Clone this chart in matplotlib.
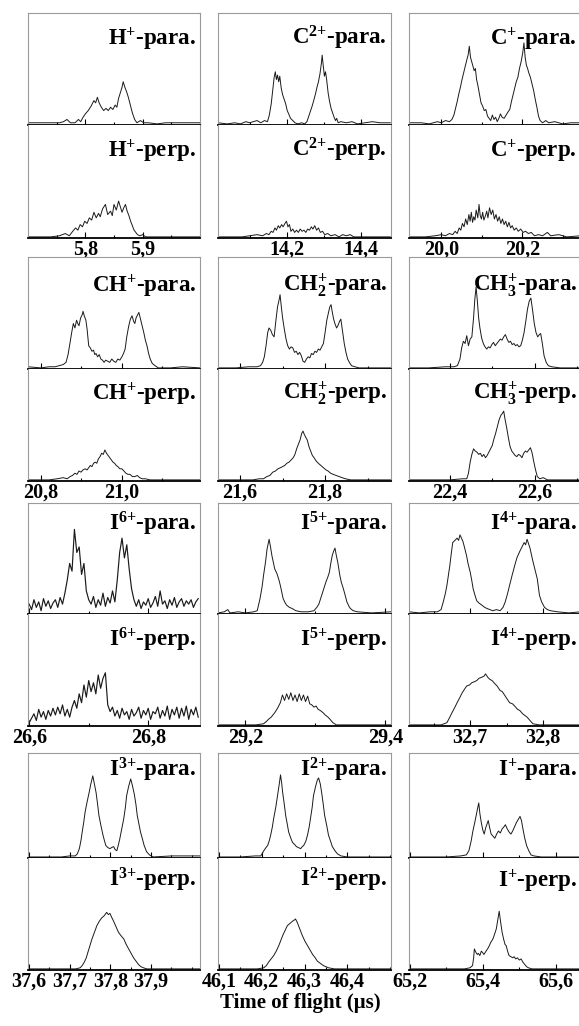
import numpy as np
import matplotlib
matplotlib.use('Agg')
import matplotlib.pyplot as plt
from matplotlib.ticker import FixedLocator, MultipleLocator

plt.rcParams['font.family'] = 'Liberation Serif'
plt.rcParams['font.weight'] = 'bold'
plt.rcParams['mathtext.fontset'] = 'custom'
plt.rcParams['mathtext.rm'] = 'Liberation Serif:bold'
plt.rcParams['mathtext.it'] = 'Liberation Serif:bold'
plt.rcParams['mathtext.bf'] = 'Liberation Serif:bold'

# ---- traces: (time of flight in us, relative signal) ----
h_para = [(5.700, 0.01), (5.720, 0.01), (5.740, 0.01), (5.755, 0.01), (5.762, 0.02), (5.768, 0.04),
          (5.774, 0.01), (5.782, 0.01), (5.788, 0.04), (5.792, 0.02), (5.796, 0.06), (5.800, 0.09),
          (5.805, 0.12), (5.810, 0.16), (5.815, 0.21), (5.818, 0.19), (5.821, 0.24), (5.824, 0.19),
          (5.828, 0.15), (5.832, 0.12), (5.836, 0.14), (5.840, 0.12), (5.844, 0.15), (5.848, 0.13),
          (5.852, 0.17), (5.855, 0.15), (5.858, 0.23), (5.861, 0.28), (5.864, 0.33), (5.866, 0.38),
          (5.869, 0.33), (5.872, 0.29), (5.875, 0.24), (5.878, 0.18), (5.882, 0.10), (5.886, 0.04),
          (5.890, 0.01), (5.896, 0.03), (5.902, 0.01), (5.910, 0.01), (5.925, 0.00), (5.940, 0.01),
          (5.950, 0.01), (5.970, 0.01), (6.000, 0.01)]
h_perp = [(5.700, 0.0), (5.740, 0.0), (5.755, 0.01), (5.765, 0.03), (5.772, 0.01), (5.778, 0.05),
          (5.783, 0.08), (5.787, 0.06), (5.791, 0.11), (5.795, 0.09), (5.799, 0.14), (5.803, 0.12),
          (5.807, 0.17), (5.811, 0.15), (5.815, 0.22), (5.819, 0.17), (5.823, 0.21), (5.826, 0.18),
          (5.830, 0.25), (5.835, 0.29), (5.839, 0.20), (5.844, 0.23), (5.847, 0.19), (5.850, 0.29),
          (5.854, 0.24), (5.858, 0.32), (5.861, 0.27), (5.864, 0.22), (5.867, 0.26), (5.870, 0.29),
          (5.873, 0.23), (5.876, 0.19), (5.879, 0.14), (5.882, 0.10), (5.885, 0.06), (5.888, 0.04),
          (5.891, 0.02), (5.895, 0.01), (5.900, 0.02), (5.905, 0.0), (5.930, 0.0), (6.000, 0.0)]

c2_para = [(14.015, 0.01), (14.04, 0.0), (14.06, 0.01), (14.075, 0.0), (14.09, 0.02), (14.10, 0.01),
           (14.11, 0.02), (14.12, 0.03), (14.13, 0.01), (14.14, 0.03), (14.148, 0.02), (14.153, 0.08),
           (14.158, 0.18), (14.162, 0.30), (14.166, 0.42), (14.169, 0.47), (14.172, 0.40), (14.175, 0.44),
           (14.178, 0.38), (14.181, 0.43), (14.185, 0.32), (14.189, 0.26), (14.193, 0.22), (14.197, 0.18),
           (14.201, 0.12), (14.205, 0.09), (14.210, 0.05), (14.216, 0.03), (14.222, 0.01), (14.230, 0.0),
           (14.240, 0.01), (14.248, 0.0), (14.254, 0.02), (14.259, 0.07), (14.264, 0.12), (14.268, 0.16),
           (14.273, 0.22), (14.277, 0.27), (14.281, 0.33), (14.285, 0.38), (14.289, 0.45), (14.293, 0.55),
           (14.295, 0.62), (14.298, 0.52), (14.301, 0.43), (14.304, 0.47), (14.307, 0.40), (14.311, 0.28),
           (14.315, 0.20), (14.319, 0.14), (14.323, 0.10), (14.327, 0.06), (14.331, 0.03), (14.334, 0.05),
           (14.338, 0.01), (14.345, 0.02), (14.36, 0.01), (14.375, 0.02), (14.39, 0.0), (14.41, 0.01),
           (14.43, 0.02), (14.45, 0.01), (14.478, 0.01)]
c2_perp = [(14.015, 0.0), (14.08, 0.0), (14.10, 0.01), (14.12, 0.02), (14.135, 0.01), (14.145, 0.03),
           (14.152, 0.02), (14.158, 0.05), (14.163, 0.04), (14.168, 0.08), (14.172, 0.06), (14.177, 0.10),
           (14.181, 0.08), (14.186, 0.11), (14.190, 0.09), (14.195, 0.12), (14.199, 0.14), (14.203, 0.09),
           (14.207, 0.11), (14.211, 0.05), (14.216, 0.07), (14.221, 0.04), (14.226, 0.06), (14.231, 0.04),
           (14.236, 0.07), (14.241, 0.05), (14.246, 0.06), (14.251, 0.04), (14.256, 0.07), (14.261, 0.06),
           (14.266, 0.09), (14.270, 0.07), (14.275, 0.10), (14.280, 0.06), (14.285, 0.08), (14.290, 0.04),
           (14.296, 0.05), (14.302, 0.02), (14.310, 0.03), (14.318, 0.01), (14.33, 0.02), (14.34, 0.0),
           (14.35, 0.02), (14.36, 0.01), (14.37, 0.02), (14.38, 0.0), (14.478, 0.0)]

c1_para = [(19.92, 0.01), (19.95, 0.01), (19.97, 0.0), (19.99, 0.02), (20.00, 0.01), (20.01, 0.03),
           (20.02, 0.02), (20.026, 0.04), (20.031, 0.08), (20.035, 0.14), (20.039, 0.20), (20.043, 0.27),
           (20.047, 0.33), (20.051, 0.40), (20.055, 0.46), (20.059, 0.52), (20.063, 0.58), (20.066, 0.62),
           (20.069, 0.70), (20.072, 0.60), (20.075, 0.56), (20.078, 0.52), (20.081, 0.48), (20.084, 0.50),
           (20.087, 0.40), (20.090, 0.35), (20.094, 0.27), (20.098, 0.19), (20.102, 0.16), (20.106, 0.12),
           (20.110, 0.13), (20.114, 0.07), (20.118, 0.05), (20.122, 0.03), (20.126, 0.08), (20.130, 0.04),
           (20.134, 0.06), (20.138, 0.02), (20.142, 0.05), (20.146, 0.09), (20.150, 0.06), (20.155, 0.05),
           (20.160, 0.08), (20.165, 0.11), (20.169, 0.13), (20.173, 0.20), (20.177, 0.26), (20.181, 0.32),
           (20.185, 0.38), (20.189, 0.42), (20.193, 0.50), (20.197, 0.56), (20.201, 0.64), (20.204, 0.73),
           (20.207, 0.60), (20.210, 0.53), (20.213, 0.50), (20.216, 0.46), (20.220, 0.42), (20.224, 0.36),
           (20.228, 0.30), (20.232, 0.22), (20.236, 0.15), (20.240, 0.07), (20.244, 0.03), (20.250, 0.01),
           (20.258, 0.03), (20.265, 0.01), (20.28, 0.02), (20.30, 0.0), (20.32, 0.01), (20.345, 0.01)]
c1_perp = [(19.92, 0.0), (19.96, 0.0), (19.985, 0.01), (20.00, 0.02), (20.01, 0.01), (20.02, 0.03),
           (20.028, 0.02), (20.034, 0.05), (20.039, 0.03), (20.044, 0.08), (20.048, 0.06), (20.052, 0.12),
           (20.056, 0.09), (20.060, 0.16), (20.064, 0.11), (20.068, 0.20), (20.071, 0.14), (20.074, 0.22),
           (20.077, 0.13), (20.080, 0.18), (20.083, 0.15), (20.086, 0.24), (20.090, 0.17), (20.093, 0.29),
           (20.096, 0.19), (20.099, 0.16), (20.102, 0.22), (20.105, 0.15), (20.109, 0.19), (20.112, 0.23),
           (20.115, 0.17), (20.119, 0.26), (20.123, 0.20), (20.127, 0.24), (20.131, 0.16), (20.135, 0.20),
           (20.139, 0.14), (20.143, 0.18), (20.147, 0.12), (20.151, 0.16), (20.155, 0.11), (20.159, 0.14),
           (20.163, 0.09), (20.167, 0.13), (20.171, 0.08), (20.175, 0.10), (20.180, 0.06), (20.185, 0.08),
           (20.190, 0.05), (20.196, 0.07), (20.202, 0.04), (20.208, 0.05), (20.215, 0.03), (20.222, 0.04),
           (20.23, 0.01), (20.24, 0.02), (20.25, 0.01), (20.262, 0.04), (20.27, 0.01), (20.29, 0.02),
           (20.31, 0.0), (20.345, 0.01)]

ch_para = [(20.768, 0.01), (20.80, 0.0), (20.82, 0.01), (20.835, 0.01), (20.845, 0.02), (20.855, 0.03),
           (20.862, 0.05), (20.867, 0.12), (20.872, 0.23), (20.876, 0.32), (20.880, 0.40), (20.884, 0.36),
           (20.888, 0.43), (20.891, 0.40), (20.894, 0.38), (20.898, 0.45), (20.902, 0.48), (20.904, 0.51),
           (20.907, 0.47), (20.911, 0.43), (20.914, 0.35), (20.918, 0.20), (20.922, 0.18), (20.926, 0.15),
           (20.930, 0.16), (20.933, 0.12), (20.936, 0.13), (20.940, 0.10), (20.944, 0.12), (20.948, 0.08),
           (20.952, 0.07), (20.956, 0.05), (20.960, 0.07), (20.965, 0.06), (20.970, 0.05), (20.975, 0.08),
           (20.980, 0.06), (20.985, 0.05), (20.990, 0.08), (20.995, 0.07), (21.000, 0.10), (21.004, 0.13),
           (21.008, 0.17), (21.012, 0.28), (21.017, 0.38), (21.021, 0.44), (21.025, 0.47), (21.029, 0.42),
           (21.032, 0.40), (21.035, 0.45), (21.039, 0.48), (21.042, 0.50), (21.046, 0.44), (21.050, 0.38),
           (21.054, 0.32), (21.058, 0.25), (21.062, 0.20), (21.066, 0.13), (21.070, 0.08), (21.075, 0.04),
           (21.082, 0.02), (21.09, 0.0), (21.12, 0.0), (21.15, 0.01), (21.193, 0.0)]
ch_perp = [(20.768, 0.0), (20.82, 0.0), (20.84, 0.01), (20.855, 0.02), (20.865, 0.01), (20.872, 0.03),
           (20.878, 0.04), (20.884, 0.06), (20.889, 0.05), (20.894, 0.08), (20.899, 0.07), (20.904, 0.09),
           (20.909, 0.10), (20.914, 0.09), (20.918, 0.11), (20.922, 0.13), (20.926, 0.12), (20.930, 0.15),
           (20.934, 0.16), (20.938, 0.15), (20.942, 0.19), (20.946, 0.21), (20.950, 0.24), (20.954, 0.23),
           (20.958, 0.27), (20.962, 0.24), (20.966, 0.22), (20.970, 0.20), (20.974, 0.18), (20.978, 0.16),
           (20.982, 0.15), (20.986, 0.13), (20.990, 0.12), (20.995, 0.10), (21.000, 0.10), (21.005, 0.08),
           (21.010, 0.06), (21.015, 0.05), (21.020, 0.05), (21.026, 0.03), (21.032, 0.03), (21.038, 0.04),
           (21.044, 0.02), (21.050, 0.01), (21.058, 0.01), (21.07, 0.0), (21.193, 0.0)]

ch2_para = [(21.548, 0.0), (21.59, 0.0), (21.62, 0.01), (21.64, 0.01), (21.648, 0.02), (21.653, 0.05),
            (21.657, 0.10), (21.661, 0.20), (21.665, 0.32), (21.668, 0.36), (21.672, 0.34), (21.676, 0.30),
            (21.680, 0.28), (21.684, 0.42), (21.688, 0.55), (21.691, 0.60), (21.694, 0.66), (21.697, 0.55),
            (21.700, 0.45), (21.704, 0.35), (21.708, 0.26), (21.712, 0.20), (21.716, 0.17), (21.720, 0.19),
            (21.724, 0.18), (21.728, 0.14), (21.732, 0.15), (21.736, 0.12), (21.740, 0.14), (21.744, 0.11),
            (21.748, 0.06), (21.752, 0.05), (21.756, 0.08), (21.760, 0.10), (21.764, 0.09), (21.768, 0.13),
            (21.772, 0.12), (21.776, 0.15), (21.780, 0.14), (21.784, 0.17), (21.788, 0.16), (21.792, 0.19),
            (21.796, 0.22), (21.800, 0.32), (21.804, 0.43), (21.808, 0.50), (21.811, 0.55), (21.814, 0.57),
            (21.817, 0.50), (21.820, 0.44), (21.823, 0.40), (21.827, 0.36), (21.830, 0.38), (21.834, 0.42),
            (21.837, 0.44), (21.841, 0.33), (21.845, 0.22), (21.849, 0.14), (21.853, 0.08), (21.857, 0.05),
            (21.862, 0.02), (21.87, 0.01), (21.88, 0.0), (21.955, 0.0)]
ch2_perp = [(21.548, 0.0), (21.63, 0.0), (21.645, 0.01), (21.655, 0.01), (21.663, 0.03), (21.670, 0.04),
            (21.677, 0.07), (21.683, 0.08), (21.689, 0.10), (21.695, 0.11), (21.700, 0.12), (21.705, 0.13),
            (21.710, 0.15), (21.715, 0.16), (21.720, 0.18), (21.725, 0.20), (21.729, 0.23), (21.733, 0.28),
            (21.737, 0.32), (21.741, 0.36), (21.745, 0.42), (21.748, 0.44), (21.751, 0.41), (21.755, 0.38),
            (21.758, 0.36), (21.762, 0.30), (21.766, 0.26), (21.770, 0.22), (21.774, 0.20), (21.779, 0.17),
            (21.784, 0.15), (21.790, 0.13), (21.796, 0.11), (21.802, 0.09), (21.807, 0.08), (21.813, 0.06),
            (21.819, 0.05), (21.826, 0.04), (21.833, 0.03), (21.840, 0.02), (21.848, 0.01), (21.86, 0.0),
            (21.955, 0.0)]

ch3_para = [(22.304, 0.0), (22.35, 0.0), (22.39, 0.01), (22.41, 0.01), (22.418, 0.02), (22.424, 0.08),
            (22.428, 0.18), (22.432, 0.24), (22.436, 0.22), (22.440, 0.29), (22.444, 0.20), (22.448, 0.26),
            (22.452, 0.28), (22.456, 0.45), (22.459, 0.62), (22.462, 0.73), (22.465, 0.60), (22.468, 0.45),
            (22.471, 0.36), (22.475, 0.27), (22.479, 0.22), (22.483, 0.19), (22.487, 0.17), (22.491, 0.19),
            (22.495, 0.18), (22.499, 0.21), (22.503, 0.23), (22.507, 0.20), (22.511, 0.22), (22.515, 0.24),
            (22.519, 0.26), (22.523, 0.25), (22.527, 0.28), (22.531, 0.30), (22.535, 0.26), (22.539, 0.23),
            (22.543, 0.24), (22.547, 0.21), (22.551, 0.22), (22.555, 0.20), (22.559, 0.21), (22.563, 0.19),
            (22.567, 0.20), (22.571, 0.25), (22.575, 0.32), (22.579, 0.42), (22.583, 0.53), (22.587, 0.60),
            (22.591, 0.63), (22.595, 0.52), (22.599, 0.40), (22.603, 0.32), (22.607, 0.28), (22.611, 0.30),
            (22.614, 0.31), (22.618, 0.22), (22.622, 0.11), (22.627, 0.05), (22.632, 0.02), (22.64, 0.01),
            (22.66, 0.0), (22.709, 0.0)]
ch3_perp = [(22.304, 0.0), (22.40, 0.0), (22.43, 0.01), (22.440, 0.01), (22.444, 0.06), (22.448, 0.16),
            (22.452, 0.23), (22.456, 0.28), (22.460, 0.26), (22.464, 0.25), (22.468, 0.23), (22.472, 0.24),
            (22.476, 0.21), (22.480, 0.23), (22.484, 0.20), (22.488, 0.22), (22.492, 0.25), (22.496, 0.28),
            (22.500, 0.31), (22.504, 0.37), (22.508, 0.42), (22.512, 0.48), (22.516, 0.54), (22.520, 0.58),
            (22.524, 0.60), (22.527, 0.62), (22.530, 0.55), (22.534, 0.47), (22.538, 0.38), (22.542, 0.30),
            (22.546, 0.26), (22.550, 0.24), (22.554, 0.22), (22.558, 0.21), (22.562, 0.23), (22.566, 0.22),
            (22.570, 0.20), (22.574, 0.24), (22.578, 0.26), (22.582, 0.25), (22.586, 0.27), (22.590, 0.29),
            (22.594, 0.24), (22.598, 0.16), (22.602, 0.09), (22.606, 0.03), (22.612, 0.01), (22.620, 0.02),
            (22.63, 0.0), (22.709, 0.0)]

# I6+ is noisy: read on a regular 0.004 us grid starting at 26.600
i6_t0, i6_dt = 26.600, 0.004
i6_para_y = [0.08, 0.03, 0.12, 0.05, 0.10, 0.02, 0.13, 0.06, 0.11, 0.04, 0.09, 0.12, 0.05, 0.14, 0.08, 0.18,
             0.30, 0.45, 0.38, 0.76, 0.55, 0.60, 0.35, 0.45, 0.20,
             0.12, 0.08, 0.15, 0.05, 0.12, 0.07, 0.18, 0.06, 0.14, 0.09, 0.20, 0.10,
             0.30, 0.55, 0.68, 0.50, 0.62, 0.40, 0.22,
             0.12, 0.06, 0.12, 0.04, 0.10, 0.07, 0.13, 0.05, 0.09, 0.15, 0.06, 0.20, 0.08, 0.11,
             0.04, 0.12, 0.07, 0.14, 0.05, 0.10, 0.13, 0.06, 0.11, 0.08, 0.12, 0.05, 0.10, 0.13]
i6_perp_y = [0.02, 0.06, 0.10, 0.04, 0.14, 0.07, 0.12, 0.05, 0.13, 0.08, 0.15,
             0.09, 0.16, 0.10, 0.18, 0.08, 0.14, 0.07,
             0.16, 0.22, 0.15, 0.28, 0.20, 0.36, 0.25, 0.40, 0.30, 0.38, 0.28, 0.45, 0.33, 0.42, 0.47,
             0.18, 0.12,
             0.16, 0.08, 0.13, 0.06, 0.15, 0.09, 0.12, 0.05, 0.14, 0.08, 0.11, 0.16, 0.06, 0.13, 0.09,
             0.15, 0.05, 0.12, 0.10, 0.16, 0.06, 0.13, 0.08, 0.17, 0.05, 0.14, 0.09, 0.16, 0.06, 0.15,
             0.08, 0.17, 0.05, 0.14, 0.09, 0.16, 0.07]

i5_para = [(29.161, 0.0), (29.170, 0.01), (29.175, 0.03), (29.178, 0.0), (29.190, 0.01), (29.200, 0.0),
           (29.212, 0.01), (29.217, 0.02), (29.221, 0.13), (29.224, 0.24), (29.226, 0.34), (29.229, 0.47),
           (29.231, 0.58), (29.234, 0.67), (29.236, 0.60), (29.238, 0.52), (29.240, 0.46), (29.242, 0.40),
           (29.245, 0.36), (29.248, 0.30), (29.250, 0.25), (29.252, 0.19), (29.254, 0.13), (29.257, 0.09),
           (29.259, 0.07), (29.263, 0.05), (29.267, 0.04), (29.272, 0.02), (29.280, 0.01), (29.290, 0.01),
           (29.298, 0.02), (29.302, 0.05), (29.305, 0.08), (29.309, 0.16), (29.312, 0.22), (29.315, 0.28),
           (29.318, 0.33), (29.320, 0.37), (29.322, 0.45), (29.324, 0.52), (29.326, 0.56), (29.328, 0.59),
           (29.330, 0.52), (29.332, 0.46), (29.335, 0.34), (29.337, 0.28), (29.340, 0.22), (29.343, 0.15),
           (29.345, 0.10), (29.348, 0.06), (29.350, 0.04), (29.354, 0.02), (29.360, 0.01), (29.380, 0.0),
           (29.408, 0.01)]
i5_perp = [(29.161, 0.0), (29.215, 0.0), (29.226, 0.01), (29.230, 0.03), (29.233, 0.05), (29.237, 0.07),
           (29.242, 0.11), (29.246, 0.15), (29.250, 0.20), (29.253, 0.27), (29.256, 0.22), (29.259, 0.28),
           (29.262, 0.23), (29.265, 0.29), (29.268, 0.22), (29.271, 0.27), (29.274, 0.21), (29.277, 0.28),
           (29.280, 0.22), (29.283, 0.27), (29.286, 0.21), (29.289, 0.26), (29.292, 0.19), (29.295, 0.18),
           (29.298, 0.16), (29.301, 0.17), (29.304, 0.14), (29.307, 0.13), (29.311, 0.11), (29.314, 0.09),
           (29.318, 0.07), (29.321, 0.05), (29.325, 0.02), (29.330, 0.0), (29.408, 0.0)]

i4_para = [(32.616, 0.01), (32.63, 0.0), (32.645, 0.01), (32.655, 0.01), (32.660, 0.03), (32.663, 0.10),
           (32.666, 0.18), (32.668, 0.25), (32.670, 0.34), (32.672, 0.43), (32.674, 0.54), (32.676, 0.64),
           (32.679, 0.66), (32.682, 0.68), (32.684, 0.66), (32.686, 0.71), (32.688, 0.68), (32.690, 0.65),
           (32.692, 0.60), (32.695, 0.52), (32.697, 0.45), (32.700, 0.37), (32.702, 0.30), (32.704, 0.22),
           (32.707, 0.15), (32.709, 0.11), (32.712, 0.09), (32.716, 0.07), (32.720, 0.05), (32.723, 0.04),
           (32.727, 0.03), (32.731, 0.02), (32.736, 0.03), (32.741, 0.02), (32.745, 0.05), (32.748, 0.10),
           (32.751, 0.17), (32.754, 0.25), (32.757, 0.33), (32.761, 0.43), (32.764, 0.50), (32.768, 0.56),
           (32.771, 0.60), (32.774, 0.64), (32.776, 0.62), (32.778, 0.67), (32.780, 0.63), (32.782, 0.59),
           (32.784, 0.53), (32.786, 0.47), (32.789, 0.39), (32.792, 0.31), (32.795, 0.16), (32.798, 0.10),
           (32.802, 0.05), (32.806, 0.03), (32.810, 0.02), (32.820, 0.01), (32.835, 0.0), (32.852, 0.01)]
i4_perp = [(32.616, 0.0), (32.660, 0.0), (32.668, 0.02), (32.672, 0.07), (32.675, 0.11), (32.679, 0.16),
           (32.682, 0.20), (32.686, 0.25), (32.689, 0.29), (32.692, 0.32), (32.695, 0.35), (32.699, 0.36),
           (32.702, 0.38), (32.706, 0.39), (32.709, 0.40), (32.712, 0.42), (32.716, 0.43), (32.719, 0.44),
           (32.721, 0.46), (32.724, 0.43), (32.727, 0.41), (32.730, 0.40), (32.734, 0.37), (32.737, 0.35),
           (32.741, 0.31), (32.744, 0.30), (32.748, 0.26), (32.751, 0.23), (32.754, 0.20), (32.758, 0.19),
           (32.761, 0.17), (32.765, 0.14), (32.768, 0.13), (32.772, 0.10), (32.778, 0.07), (32.782, 0.04),
           (32.786, 0.01), (32.795, 0.0), (32.852, 0.0)]

i3_para = [(37.598, 0.0), (37.68, 0.0), (37.70, 0.01), (37.714, 0.01), (37.719, 0.03), (37.724, 0.08),
           (37.728, 0.16), (37.731, 0.24), (37.735, 0.34), (37.738, 0.43), (37.743, 0.53), (37.748, 0.62),
           (37.752, 0.70), (37.757, 0.78), (37.761, 0.70), (37.765, 0.62), (37.769, 0.50), (37.772, 0.40),
           (37.777, 0.30), (37.782, 0.21), (37.786, 0.15), (37.789, 0.11), (37.794, 0.09), (37.799, 0.08),
           (37.803, 0.09), (37.808, 0.10), (37.812, 0.07), (37.816, 0.06), (37.820, 0.12), (37.823, 0.17),
           (37.828, 0.27), (37.833, 0.37), (37.837, 0.48), (37.840, 0.59), (37.845, 0.68), (37.850, 0.75),
           (37.854, 0.69), (37.859, 0.60), (37.863, 0.50), (37.866, 0.40), (37.870, 0.32), (37.874, 0.24),
           (37.879, 0.17), (37.883, 0.11), (37.889, 0.05), (37.896, 0.02), (37.905, 0.0), (37.95, 0.01),
           (37.98, 0.01), (38.02, 0.01)]
i3_perp = [(37.598, 0.0), (37.715, 0.0), (37.726, 0.01), (37.731, 0.03), (37.736, 0.06), (37.741, 0.10),
           (37.745, 0.15), (37.750, 0.21), (37.755, 0.27), (37.761, 0.33), (37.767, 0.39), (37.773, 0.43),
           (37.779, 0.46), (37.785, 0.48), (37.791, 0.51), (37.795, 0.49), (37.799, 0.50), (37.804, 0.46),
           (37.808, 0.43), (37.814, 0.38), (37.820, 0.33), (37.826, 0.30), (37.833, 0.27), (37.839, 0.22),
           (37.845, 0.18), (37.851, 0.14), (37.857, 0.10), (37.863, 0.07), (37.869, 0.04), (37.875, 0.02),
           (37.881, 0.01), (37.89, 0.0), (38.02, 0.0)]

i2_para = [(46.098, 0.0), (46.15, 0.0), (46.185, 0.01), (46.198, 0.01), (46.205, 0.06), (46.210, 0.09),
           (46.214, 0.11), (46.218, 0.16), (46.221, 0.21), (46.225, 0.29), (46.228, 0.37), (46.233, 0.48),
           (46.237, 0.59), (46.241, 0.70), (46.244, 0.79), (46.247, 0.70), (46.249, 0.62), (46.253, 0.50),
           (46.256, 0.40), (46.260, 0.31), (46.263, 0.24), (46.268, 0.18), (46.272, 0.14), (46.277, 0.12),
           (46.281, 0.10), (46.286, 0.09), (46.291, 0.08), (46.295, 0.10), (46.298, 0.11), (46.303, 0.15),
           (46.307, 0.21), (46.311, 0.29), (46.314, 0.37), (46.318, 0.48), (46.321, 0.59), (46.326, 0.68),
           (46.330, 0.74), (46.333, 0.76), (46.337, 0.70), (46.340, 0.62), (46.344, 0.50), (46.347, 0.40),
           (46.352, 0.30), (46.356, 0.21), (46.361, 0.15), (46.365, 0.10), (46.371, 0.06), (46.377, 0.03),
           (46.385, 0.01), (46.40, 0.0), (46.502, 0.0)]
i2_perp = [(46.098, 0.0), (46.19, 0.0), (46.205, 0.01), (46.211, 0.03), (46.216, 0.06), (46.222, 0.09),
           (46.228, 0.12), (46.234, 0.16), (46.240, 0.21), (46.245, 0.26), (46.249, 0.30), (46.255, 0.35),
           (46.260, 0.39), (46.266, 0.41), (46.272, 0.43), (46.276, 0.44), (46.279, 0.45), (46.283, 0.42),
           (46.286, 0.39), (46.290, 0.35), (46.295, 0.30), (46.301, 0.25), (46.307, 0.21), (46.313, 0.17),
           (46.319, 0.13), (46.325, 0.10), (46.330, 0.07), (46.337, 0.05), (46.344, 0.03), (46.350, 0.02),
           (46.356, 0.01), (46.37, 0.0), (46.502, 0.0)]

i1_para = [(65.198, 0.0), (65.30, 0.0), (65.34, 0.01), (65.355, 0.02), (65.362, 0.06), (65.368, 0.15),
           (65.373, 0.25), (65.378, 0.33), (65.382, 0.40), (65.386, 0.47), (65.389, 0.52), (65.392, 0.42),
           (65.396, 0.33), (65.400, 0.26), (65.404, 0.22), (65.408, 0.28), (65.412, 0.32), (65.415, 0.35),
           (65.419, 0.28), (65.423, 0.22), (65.428, 0.20), (65.433, 0.18), (65.438, 0.22), (65.443, 0.25),
           (65.448, 0.23), (65.453, 0.27), (65.458, 0.29), (65.462, 0.31), (65.467, 0.27), (65.472, 0.24),
           (65.477, 0.22), (65.482, 0.25), (65.487, 0.29), (65.492, 0.33), (65.497, 0.36), (65.502, 0.39),
           (65.506, 0.35), (65.510, 0.27), (65.515, 0.18), (65.520, 0.11), (65.526, 0.06), (65.532, 0.02),
           (65.54, 0.01), (65.56, 0.0), (65.669, 0.0)]
i1_perp = [(65.198, 0.0), (65.35, 0.0), (65.365, 0.01), (65.372, 0.03), (65.375, 0.10), (65.377, 0.18),
           (65.381, 0.15), (65.385, 0.13), (65.388, 0.14), (65.392, 0.12), (65.396, 0.16), (65.399, 0.15),
           (65.403, 0.13), (65.407, 0.15), (65.411, 0.17), (65.415, 0.19), (65.418, 0.21), (65.422, 0.24),
           (65.426, 0.26), (65.429, 0.28), (65.433, 0.32), (65.437, 0.36), (65.441, 0.44), (65.445, 0.52),
           (65.449, 0.42), (65.453, 0.33), (65.457, 0.27), (65.461, 0.22), (65.464, 0.21), (65.468, 0.16),
           (65.472, 0.12), (65.477, 0.11), (65.482, 0.10), (65.486, 0.11), (65.490, 0.09), (65.495, 0.10),
           (65.500, 0.08), (65.505, 0.09), (65.510, 0.06), (65.515, 0.04), (65.520, 0.02), (65.525, 0.01),
           (65.535, 0.0), (65.669, 0.0)]

i6_para = [(i6_t0 + i6_dt * k, v) for k, v in enumerate(i6_para_y)]
i6_perp = [(i6_t0 + i6_dt * k, v) for k, v in enumerate(i6_perp_y)]

# ---- panel descriptions (row by row, left to right) ----
# "{+}" keeps mathtext from treating the plus as a spaced binary operator
ion_labels = [r'$\mathbf{H}^{\mathbf{{+}}}$', r'$\mathbf{C}^{\mathbf{2{+}}}$', r'$\mathbf{C}^{\mathbf{{+}}}$',
              r'$\mathbf{CH}^{\mathbf{{+}}}$', r'$\mathbf{CH}_{\mathbf{2}}^{\mathbf{{+}}}$',
              r'$\mathbf{CH}_{\mathbf{3}}^{\mathbf{{+}}}$',
              r'$\mathbf{I}^{\mathbf{6{+}}}$', r'$\mathbf{I}^{\mathbf{5{+}}}$', r'$\mathbf{I}^{\mathbf{4{+}}}$',
              r'$\mathbf{I}^{\mathbf{3{+}}}$', r'$\mathbf{I}^{\mathbf{2{+}}}$', r'$\mathbf{I}^{\mathbf{{+}}}$']
para_traces = [h_para, c2_para, c1_para, ch_para, ch2_para, ch3_para,
               i6_para, i5_para, i4_para, i3_para, i2_para, i1_para]
perp_traces = [h_perp, c2_perp, c1_perp, ch_perp, ch2_perp, ch3_perp,
               i6_perp, i5_perp, i4_perp, i3_perp, i2_perp, i1_perp]
x_limits = [(5.70, 6.00), (14.015, 14.48), (19.92, 20.345),
            (20.768, 21.193), (21.548, 21.955), (22.304, 22.709),
            (26.598, 26.887), (29.161, 29.408), (32.616, 32.852),
            (37.598, 38.02), (46.098, 46.502), (65.198, 65.669)]
x_ticks = [[5.8, 5.9], [14.2, 14.4], [20.0, 20.2],
           [20.8, 21.0], [21.6, 21.8], [22.4, 22.6],
           [26.6, 26.8], [29.2, 29.4], [32.7, 32.8],
           [37.6, 37.7, 37.8, 37.9], [46.1, 46.2, 46.3, 46.4], [65.2, 65.4, 65.6]]
x_ticklabels = [['5,8', '5,9'], ['14,2', '14,4'], ['20,0', '20,2'],
                ['20,8', '21,0'], ['21,6', '21,8'], ['22,4', '22,6'],
                ['26,6', '26,8'], ['29,2', '29,4'], ['32,7', '32,8'],
                ['37,6', '37,7', '37,8', '37,9'], ['46,1', '46,2', '46,3', '46,4'], ['65,2', '65,4', '65,6']]
minor_steps = [0.05, 0.1, 0.1, 0.1, 0.1, 0.1, 0.1, 0.1, 0.05, 0.05, 0.05, 0.1]

# ---- layout in pixels ----
W, H = 579, 1026
rows_px = [(13, 125, 238), (257, 369, 481), (503, 614, 726), (753, 858, 970)]
cols_px = [(28, 200), (218, 391), (409, 581)]
para_off = [32, 35, 27, 23]
perp_off = [32, 31, 33, 29]

fig = plt.figure(figsize=(W / 100, H / 100), dpi=100)


def px_box(x0, x1, y0, y1):
    return [x0 / W, 1 - y1 / H, (x1 - x0) / W, (y1 - y0) / H]


def style(ax, i, bottom_labels):
    ax.set_xlim(*x_limits[i])
    ax.set_ylim(-0.01, 1)
    ax.set_yticks([])
    ax.xaxis.set_major_locator(FixedLocator(x_ticks[i]))
    ax.xaxis.set_minor_locator(MultipleLocator(minor_steps[i]))
    ax.tick_params(axis='x', which='both', direction='in', color='black', width=0.8, pad=1,
                   labelsize=14.5)
    ax.tick_params(axis='x', which='major', length=4)
    ax.tick_params(axis='x', which='minor', length=2.5)
    if bottom_labels:
        ax.set_xticklabels(x_ticklabels[i], fontweight='bold')
    else:
        ax.set_xticklabels([])
    for s in ['left', 'right', 'top']:
        ax.spines[s].set_color('#9a9a9a')
        ax.spines[s].set_linewidth(0.8)
    ax.spines['bottom'].set_color('black')
    ax.spines['bottom'].set_linewidth(1.3)


for r, (top, mid, bot) in enumerate(rows_px):
    for c, (x0, x1) in enumerate(cols_px):
        i = 3 * r + c
        ax_pa = fig.add_axes(px_box(x0, x1, top, mid))
        ax_pe = fig.add_axes(px_box(x0, x1, mid, bot))
        style(ax_pa, i, False)
        style(ax_pe, i, True)
        ax_pe.spines['top'].set_visible(False)

        lw = 0.85 if r == 2 and c == 0 else 0.7
        t, y = zip(*para_traces[i])
        ax_pa.plot(t, y, color='#1a1a1a', lw=lw)
        t, y = zip(*perp_traces[i])
        ax_pe.plot(t, y, color='#1a1a1a', lw=lw)

        ax_pa.annotate(ion_labels[i] + '-para.', xy=(1, 1), xycoords='axes fraction',
                       xytext=(-4, -para_off[r]), textcoords='offset pixels',
                       ha='right', va='baseline', fontsize=16.5, fontweight='bold')
        ax_pe.annotate(ion_labels[i] + '-perp.', xy=(1, 1), xycoords='axes fraction',
                       xytext=(-4, -perp_off[r]), textcoords='offset pixels',
                       ha='right', va='baseline', fontsize=16.5, fontweight='bold')

fig.text(300 / W, 1 - 1003 / H, 'Time of flight (\u03bcs)', ha='center', va='center',
         fontsize=15, fontweight='bold')

fig.savefig('out.png', dpi=100)
